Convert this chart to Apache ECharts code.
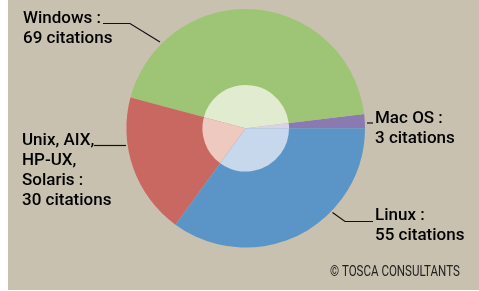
<!DOCTYPE html>
<html>
<head>
<meta charset="utf-8">
<title>OS citations</title>
<script src="https://cdn.jsdelivr.net/npm/echarts@6/dist/echarts.min.js"></script>
<style>
    html, body { margin: 0; padding: 0; background: #fff; }
    #chart { position: absolute; left: 8px; top: 0; width: 471px; height: 290px; }
</style>
</head>
<body>
<div id="chart"></div>
<script>
// données
var systems = ['Mac OS', 'Windows', 'Unix, AIX,\nHP-UX,\nSolaris', 'Linux'];
var citations = [3, 69, 30, 55];
var colors = ['#8b79b1', '#9ec475', '#c96761', '#5b95c7'];
var lightColors = ['#dbd2e6', '#e1ebcf', '#edc9bf', '#c7d8ec'];

// position des étiquettes et des traits (px dans le graphique)
var labelPos = [
    { x: 367, y: 109, line: [[359, 123], [362, 123], [365, 123]] },
    { x: 15, y: 9, line: [[152, 42], [122, 23.5], [95, 23.5]] },
    { x: 14, y: 131, line: [[118, 145.5], [102, 145.5], [86, 145.5]] },
    { x: 367, y: 206, line: [[324.5, 212.5], [337, 221.5], [365, 221.5]] }
];

var chart = echarts.init(document.getElementById('chart'));

var outerData = systems.map(function (name, i) {
    return { name: name, value: citations[i], itemStyle: { color: colors[i] } };
});
var innerData = systems.map(function (name, i) {
    return { name: name, value: citations[i], itemStyle: { color: lightColors[i] } };
});

chart.setOption({
    backgroundColor: '#c9c1af',
    animation: false,
    series: [
        {
            type: 'pie',
            center: [237.7, 128.3],
            radius: [0, 119.3],
            startAngle: 0,
            clockwise: false,
            silent: true,
            data: outerData,
            label: {
                show: true,
                position: 'outside',
                formatter: function (p) {
                    return p.name + ' :\n' + p.value + ' citations';
                },
                fontFamily: 'Roboto',
                fontSize: 17,
                fontWeight: 500,
                lineHeight: 20,
                color: '#000',
                align: 'left',
                overflow: 'none',
                width: 200
            },
            labelLine: {
                show: true,
                lineStyle: { color: '#111', width: 1.2 }
            },
            labelLayout: function (params) {
                var p = labelPos[params.dataIndex];
                return {
                    x: p.x,
                    y: p.y,
                    align: 'left',
                    verticalAlign: 'top',
                    labelLinePoints: p.line
                };
            }
        },
        {
            type: 'pie',
            center: [237.7, 128.3],
            radius: [0, 43.3],
            startAngle: 0,
            clockwise: false,
            silent: true,
            label: { show: false },
            labelLine: { show: false },
            data: innerData
        }
    ],
    graphic: [
        {
            type: 'text',
            x: 322,
            y: 265,
            scaleX: 0.77,
            style: {
                text: '© TOSCA CONSULTANTS',
                fontFamily: 'Roboto',
                fontSize: 15,
                fill: '#222'
            }
        }
    ]
});
</script>
</body>
</html>
